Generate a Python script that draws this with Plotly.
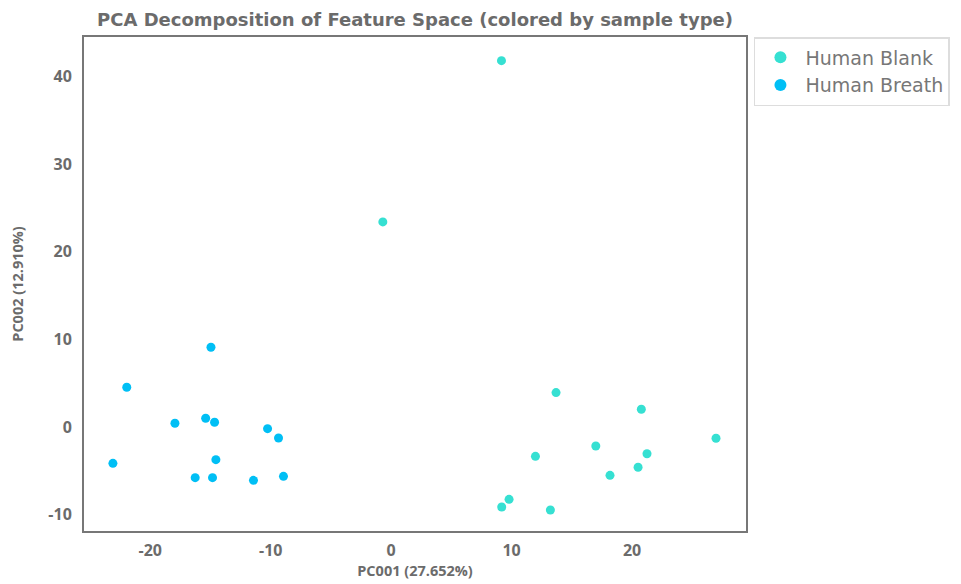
import plotly.graph_objects as go

blank_x = [9.16, -0.69, 13.69, 20.77, 26.97, 16.99, 11.98, 21.24, 20.5, 18.17, 9.79, 9.18, 13.22]
blank_y = [41.8, 23.4, 3.92, 2.02, -1.29, -2.17, -3.35, -3.05, -4.6, -5.52, -8.26, -9.13, -9.47]

breath_x = [-14.96, -21.95, -17.95, -15.4, -14.66, -10.26, -9.35, -23.1, -14.55, -16.27, -14.83, -11.43, -8.94]
breath_y = [9.1, 4.53, 0.42, 0.99, 0.54, -0.19, -1.26, -4.15, -3.73, -5.78, -5.78, -6.09, -5.63]

x_ticks = [-20, -10, 0, 10, 20]
x_tick_labels = ["-20", "-10", "0", "10", "20"]
y_ticks = [-10, 0, 10, 20, 30, 40]
y_tick_labels = ["-10", "0", "10", "20", "30", "40"]

series = [("Human Blank", blank_x, blank_y, "#36E0D2"),
          ("Human Breath", breath_x, breath_y, "#00BFF5")]

fig = go.Figure()
for name, xs, ys, col in series:
    fig.add_trace(go.Scatter(x=xs, y=ys, mode="markers", name=name,
                             marker=dict(color=col, size=9)))

gray = "#6b6b6b"
fam = "Open Sans"
W, H = 953, 576
fig.update_layout(
    width=W, height=H,
    paper_bgcolor="white", plot_bgcolor="white",
    margin=dict(l=76, r=215, t=29, b=53, autoexpand=False),
    font=dict(family=fam, color=gray),
    title=dict(text="PCA Decomposition of Feature Space (colored by sample type)",
               x=0.5, xref="paper", xanchor="center", y=1 - 12 / H, yref="container", yanchor="middle",
               automargin=False, font=dict(size=18, color=gray, family="DejaVu Sans", weight="bold")),
    legend=dict(x=1.012, xanchor="left", y=1.0, yanchor="top",
                bordercolor="#dddddd", borderwidth=1.5, itemwidth=40,
                font=dict(size=19, color="#777777", family="DejaVu Sans"), itemsizing="constant"),
)
fig.update_xaxes(range=[-25.5, 29.46], showgrid=False, zeroline=False, automargin=False,
                 showline=True, mirror=True, linecolor="#777777", linewidth=2,
                 tickvals=x_ticks, ticktext=x_tick_labels, ticks="", ticklabelstandoff=4,
                 tickfont=dict(size=16, family=fam, color=gray, weight="bold"),
                 title=dict(text="PC001 (27.652%)", font=dict(size=14.5, color=gray, family=fam, weight="bold"), standoff=5))
fig.update_yaxes(range=[-11.87, 44.5], showgrid=False, zeroline=False, automargin=False,
                 showline=True, mirror=True, linecolor="#777777", linewidth=2,
                 tickvals=y_ticks, ticktext=y_tick_labels, ticks="", ticklabelstandoff=7,
                 tickfont=dict(size=16, family=fam, color=gray, weight="bold"),
                 title=dict(text="PC002 (12.910%)", font=dict(size=14.5, color=gray, family=fam, weight="bold"), standoff=28))

fig.write_html("out.html")
